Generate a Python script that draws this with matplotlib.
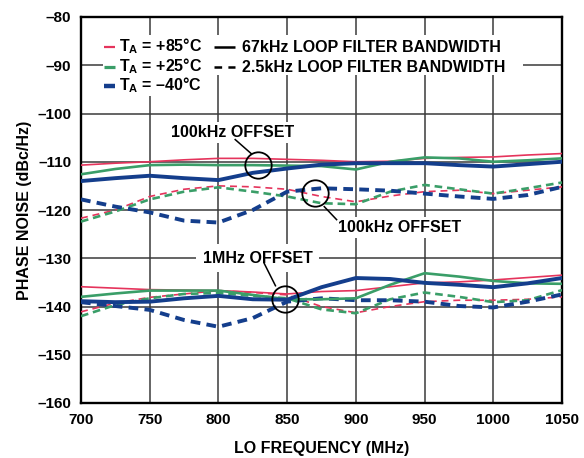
import matplotlib
matplotlib.use("Agg")
import matplotlib.pyplot as plt
from matplotlib.patches import Rectangle

plt.rcParams['font.family'] = ['Liberation Sans', 'DejaVu Sans']
plt.rcParams['font.weight'] = 'bold'
plt.rcParams['mathtext.fontset'] = 'custom'
plt.rcParams['mathtext.rm'] = 'Liberation Sans:bold'
plt.rcParams['mathtext.bf'] = 'Liberation Sans:bold'
plt.rcParams['mathtext.it'] = 'Liberation Sans:bold'
plt.rcParams['lines.scale_dashes'] = False

# LO frequency (MHz)
freq = [700, 725, 750, 775, 800, 825, 850, 875, 900, 925, 950, 975, 1000, 1025, 1050]

# 100kHz offset, 67kHz loop filter (solid)
n100k_67k_p85 = [-110.7, -110.3, -110.0, -109.6, -109.3, -109.3, -109.5, -109.7, -110.0, -109.9, -109.3, -109.1, -109.0, -108.6, -108.3]
n100k_67k_p25 = [-112.6, -111.5, -110.7, -110.6, -110.7, -110.7, -110.8, -110.9, -111.6, -110.0, -109.1, -109.3, -110.0, -109.7, -109.3]
n100k_67k_m40 = [-114.0, -113.4, -112.9, -113.4, -113.8, -112.3, -111.4, -110.6, -110.3, -110.3, -110.3, -110.7, -111.0, -110.5, -110.0]
# 100kHz offset, 2.5kHz loop filter (dashed)
n100k_25k_p85 = [-121.7, -120.0, -117.2, -115.7, -115.0, -115.2, -115.7, -117.2, -118.3, -117.1, -116.2, -115.9, -116.6, -115.9, -115.2]
n100k_25k_p25 = [-122.4, -120.3, -117.8, -116.2, -115.3, -116.2, -117.2, -118.6, -118.8, -116.2, -114.8, -115.7, -116.6, -115.5, -114.3]
n100k_25k_m40 = [-117.8, -119.3, -120.5, -122.2, -122.6, -120.0, -116.2, -115.5, -115.7, -116.0, -116.6, -117.2, -117.7, -116.9, -115.2]
# 1MHz offset, 67kHz loop filter (solid)
n1m_67k_p85 = [-135.9, -136.2, -136.5, -136.6, -136.7, -137.0, -137.4, -136.9, -136.7, -135.9, -135.1, -134.9, -134.5, -134.0, -133.5]
n1m_67k_p25 = [-138.0, -137.3, -136.7, -136.7, -136.7, -137.6, -138.5, -138.5, -138.3, -135.5, -133.1, -133.8, -134.7, -135.2, -135.3]
n1m_67k_m40 = [-138.9, -139.1, -139.0, -138.3, -137.8, -138.5, -138.6, -136.0, -134.1, -134.3, -135.1, -135.5, -136.0, -135.2, -134.1]
# 1MHz offset, 2.5kHz loop filter (dashed)
n1m_25k_p85 = [-141.1, -139.3, -138.1, -137.4, -136.7, -137.1, -137.6, -140.0, -141.3, -140.0, -139.0, -138.7, -138.7, -138.5, -138.0]
n1m_25k_p25 = [-142.0, -139.7, -138.3, -137.4, -137.2, -137.8, -138.3, -140.6, -141.4, -138.5, -137.1, -138.0, -139.1, -138.7, -136.6]
n1m_25k_m40 = [-139.1, -139.9, -140.7, -142.8, -144.2, -142.4, -139.0, -138.3, -138.7, -138.7, -139.0, -139.9, -140.2, -139.0, -137.5]

temp_labels = [r'T$_\mathregular{A}$ = +85°C', r'T$_\mathregular{A}$ = +25°C', r'T$_\mathregular{A}$ = –40°C']
bw_labels = ['67kHz LOOP FILTER BANDWIDTH', '2.5kHz LOOP FILTER BANDWIDTH']
xticks = [700, 750, 800, 850, 900, 950, 1000, 1050]
yticks = [-160, -150, -140, -130, -120, -110, -100, -90, -80]

RED, GREEN, BLUE = '#e5345c', '#3a9e68', '#143e8c'
colors = [RED, GREEN, BLUE]
widths = [1.2, 1.9, 2.8]
dashes = [(5, 3.5), (5.5, 3.5), (7, 4.5)]

fig = plt.figure(figsize=(5.84, 4.58), dpi=100)
ax = fig.add_axes([81 / 584, 55 / 458, 481 / 584, 386 / 458])

solid_sets = [[n100k_67k_p85, n100k_67k_p25, n100k_67k_m40], [n1m_67k_p85, n1m_67k_p25, n1m_67k_m40]]
dash_sets = [[n100k_25k_p85, n100k_25k_p25, n100k_25k_m40], [n1m_25k_p85, n1m_25k_p25, n1m_25k_m40]]
for group in dash_sets:
    for vals, c, w, d in zip(group, colors, widths, dashes):
        ax.plot(freq, vals, color=c, lw=w, dashes=d, zorder=3)
for group in solid_sets:
    for vals, c, w in zip(group, colors, widths):
        ax.plot(freq, vals, color=c, lw=w, zorder=4)

ax.set_xlim(700, 1050)
ax.set_ylim(-160, -80)
ax.set_xticks(xticks, labels=[str(v) for v in xticks])
ax.set_yticks(yticks, labels=['–%d' % -v for v in yticks])
ax.tick_params(length=0, labelsize=11, pad=7)
ax.tick_params(axis='x', pad=7.5)
ax.grid(True, color='#3a3a3a', lw=1.1)
ax.set_axisbelow(True)
for s in ax.spines.values():
    s.set_linewidth(1.7)
    s.set_color('black')

ax.set_xlabel('LO FREQUENCY (MHz)', fontsize=11.5, fontweight='bold', va='center')
ax.set_ylabel('PHASE NOISE (dBc/Hz)', fontsize=11.5, fontweight='bold', va='center')
ax.xaxis.set_label_coords(0.5, -0.117)
ax.yaxis.set_label_coords(-0.118, 0.5)


def fx(px):
    return (px - 81) / 481


def fy(py):
    return (403 - py) / 386


# legend (white area over the grid)
T = ax.transAxes
ax.add_patch(Rectangle((fx(103), fy(75)), fx(523) - fx(103), fy(35) - fy(75), transform=T,
                       facecolor='white', edgecolor='none', zorder=1.5))
ax.add_patch(Rectangle((fx(103), fy(96)), fx(210) - fx(103), fy(35) - fy(96), transform=T,
                       facecolor='white', edgecolor='none', zorder=1.5))
rows_py = [46.7, 66.7, 85.5]
base_py = [51.7, 71.7, 90.7]
for i, (lab, c, w) in enumerate(zip(temp_labels, colors, widths)):
    ax.plot([fx(104), fx(115)], [fy(rows_py[i])] * 2, transform=T, color=c, lw=w + 0.4,
            solid_capstyle='butt', zorder=5)
    ax.text(fx(119), fy(base_py[i]), lab, transform=T, fontsize=11.5, va='baseline', ha='left', zorder=5)
for i, lab in enumerate(bw_labels):
    kw = dict(solid_capstyle='butt') if i == 0 else dict(dashes=(5.5, 4.5), dash_capstyle='butt')
    ax.plot([fx(214), fx(235)], [fy(rows_py[i])] * 2, transform=T, color='black', lw=1.8, zorder=5, **kw)
    ax.text(fx(242), fy(base_py[i]), lab, transform=T, fontsize=11.5, va='baseline', ha='left', zorder=5)

# offset annotations
box = dict(boxstyle='square,pad=0.2', facecolor='white', edgecolor='none')
ax.text(810.6, -104.0, '100kHz OFFSET', fontsize=11.5, ha='center', va='center', bbox=box, zorder=5)
ax.text(931.5, -123.6, '100kHz OFFSET', fontsize=11.5, ha='center', va='center', bbox=box, zorder=5)
ax.text(828.4, -130.0, '1MHz OFFSET', fontsize=11.5, ha='center', va='center',
        bbox=dict(boxstyle='square,pad=0.4', facecolor='white', edgecolor='none'), zorder=5)

circles = [(829.0, -110.7), (870.5, -116.4), (848.7, -138.4)]
for cx, cy in circles:
    ax.plot([cx], [cy], marker='o', ms=19, mfc='none', mec='black', mew=1.3, zorder=6)

ax.plot([812.2, 823.8], [-105.4, -108.3], color='black', lw=1.1, zorder=6)
ax.plot([877.0, 886.0], [-119.3, -122.0], color='black', lw=1.1, zorder=6)
ax.plot([833.2, 841.5], [-131.0, -135.7], color='black', lw=1.1, zorder=6)

fig.savefig('out.png', dpi=100)
